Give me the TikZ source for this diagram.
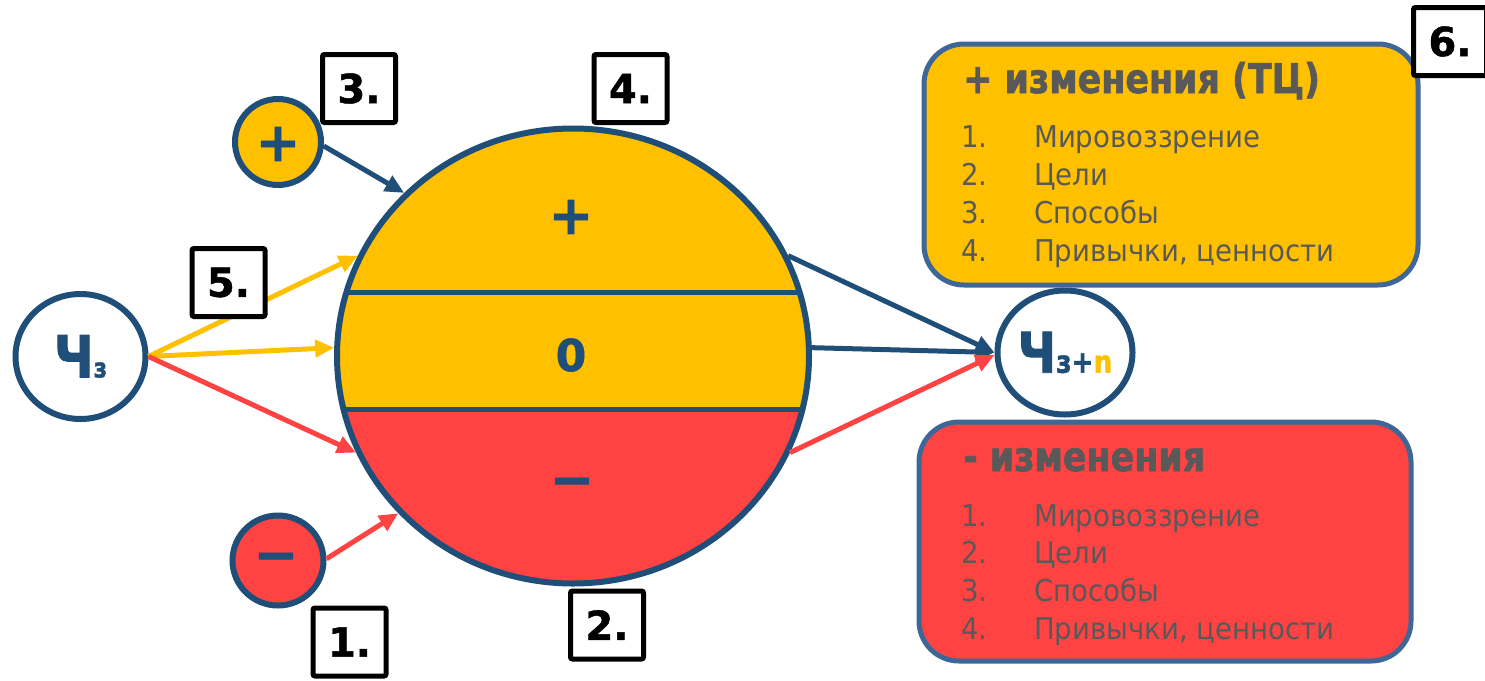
\documentclass[tikz,border=0pt]{standalone}
\usepackage{fontspec}
\setmainfont{DejaVu Sans}[BoldFeatures={FakeBold=1.2}]
\newfontfamily\lf[FakeStretch=0.92]{DejaVu Sans}
\newfontfamily\hf[FakeStretch=0.85,BoldFeatures={FakeBold=1.5}]{DejaVu Sans}
\usetikzlibrary{shapes.geometric,arrows.meta}
\definecolor{cy}{HTML}{FFC000}
\definecolor{cr}{HTML}{FF4343}
\definecolor{cn}{HTML}{1F4E79}
\definecolor{cb}{HTML}{3E6697}
\definecolor{ct}{HTML}{595959}
\begin{document}
\begin{tikzpicture}[x=1pt,y=-1pt,
  arr/.style={line width=5pt,-{Triangle[length=19pt,width=17pt]}},
  numbox/.style={draw=black,line width=5pt,rounded corners=2pt,fill=white,
    minimum width=73pt,minimum height=68pt,inner sep=0pt,
    font=\fontsize{40}{40}\selectfont\bfseries},
  bubble/.style={ellipse,draw=cn,line width=6pt,inner sep=0pt,outer sep=3pt},
  sym/.style={text=cn,font=\fontsize{54}{54}\selectfont\bfseries,inner sep=0pt},
  infobox/.style={draw=cb,line width=5pt,rounded corners=40pt,inner sep=0pt},
  titletxt/.style={anchor=base west,inner sep=0pt,text=ct,font=\hf\bfseries\fontsize{41}{41}\selectfont},
  listtxt/.style={anchor=base west,inner sep=0pt,text=ct,font=\lf\fontsize{30}{30}\selectfont}
]
\useasboundingbox (0,0) rectangle (1485,680);

% big circle
\node[ellipse,minimum width=472pt,minimum height=455pt,inner sep=0pt,outer sep=3pt] (big) at (573,356) {};
\begin{scope}
  \clip (big.center) ellipse [x radius=236pt, y radius=227.5pt];
  \fill[cy] (320,100) rectangle (830,409);
  \fill[cr] (320,409) rectangle (830,620);
  \draw[cn,line width=5pt] (320,292) -- (830,292);
  \draw[cn,line width=5pt] (320,409) -- (830,409);
\end{scope}
\draw[cn,line width=6pt] (big.center) ellipse [x radius=236pt, y radius=227.5pt];
\node[sym] (bplus) at (571,217) {+};
\node[sym,font=\fontsize{44}{44}\selectfont\bfseries] (bzero) at (571,355) {0};
\node[sym] (bminus) at (572,488) {−};

% side nodes
\node[bubble,fill=white,minimum width=130pt,minimum height=125pt] (ch3) at (80.5,356.5)
  {\hf\bfseries\fontsize{58}{58}\selectfont\textcolor{cn}{Ч{\fontsize{27}{27}\selectfont з}}};
\node[bubble,fill=white,minimum width=135pt,minimum height=124pt] (chn) at (1065,352.5)
  {\hf\bfseries\fontsize{56}{56}\selectfont\textcolor{cn}{Ч{\fontsize{31}{31}\selectfont з+\textcolor{cy}{n}}}};
\node[bubble,fill=cy,minimum width=86pt,minimum height=86pt] (plus) at (278,142) {};
\node[sym] (plustxt) at (278,144) {+};
\node[bubble,fill=cr,minimum width=91pt,minimum height=90pt] (minus) at (278,560.5) {};
\node[sym] (minustxt) at (276,563) {−};

% arrows
\draw[arr,cn] (plus.-5) -- (big.136);
\draw[arr,cr] (minus.2) -- (big.222);
\draw[arr,cy] (ch3.east) -- (big.155);
\draw[arr,cy] (ch3.east) -- (big.178);
\draw[arr,cr] (ch3.east) -- (big.204);
\draw[arr,cn] (big.25) -- (chn.west);
\draw[arr,cn] (big.2) -- (chn.west);
\draw[arr,cr] (big.336) -- (chn.182);

% info boxes
\node[infobox,fill=cy,minimum width=494pt,minimum height=241pt] (ybox) at (1171,164.5) {};
\node[infobox,fill=cr,minimum width=492pt,minimum height=239pt] (rbox) at (1165,541.5) {};
\node[titletxt] (ytitle) at (963,93) {+ изменения (ТЦ)};
\node[titletxt] (rtitle) at (963,471) {- изменения};
\foreach \t [count=\i] in {Мировоззрение,Цели,Способы,{Привычки, ценности}} {
  \node[listtxt] (yl\i) at (961,{147+38*(\i-1)}) {\makebox[73pt][l]{\i.}\t};
  \node[listtxt] (rl\i) at (961,{526+37.7*(\i-1)}) {\makebox[73pt][l]{\i.}\t};
}

% number boxes
\node[numbox] (n3) at (359,88.5) {3.};
\node[numbox] (n4) at (630.5,88.5) {4.};
\node[numbox] (n5) at (228.5,282.5) {5.};
\node[numbox] (n1) at (349.5,642) {1.};
\node[numbox] (n2) at (607,625) {2.};
\node[numbox] (n6) at (1450,41.5) {6.};
\end{tikzpicture}
\end{document}
